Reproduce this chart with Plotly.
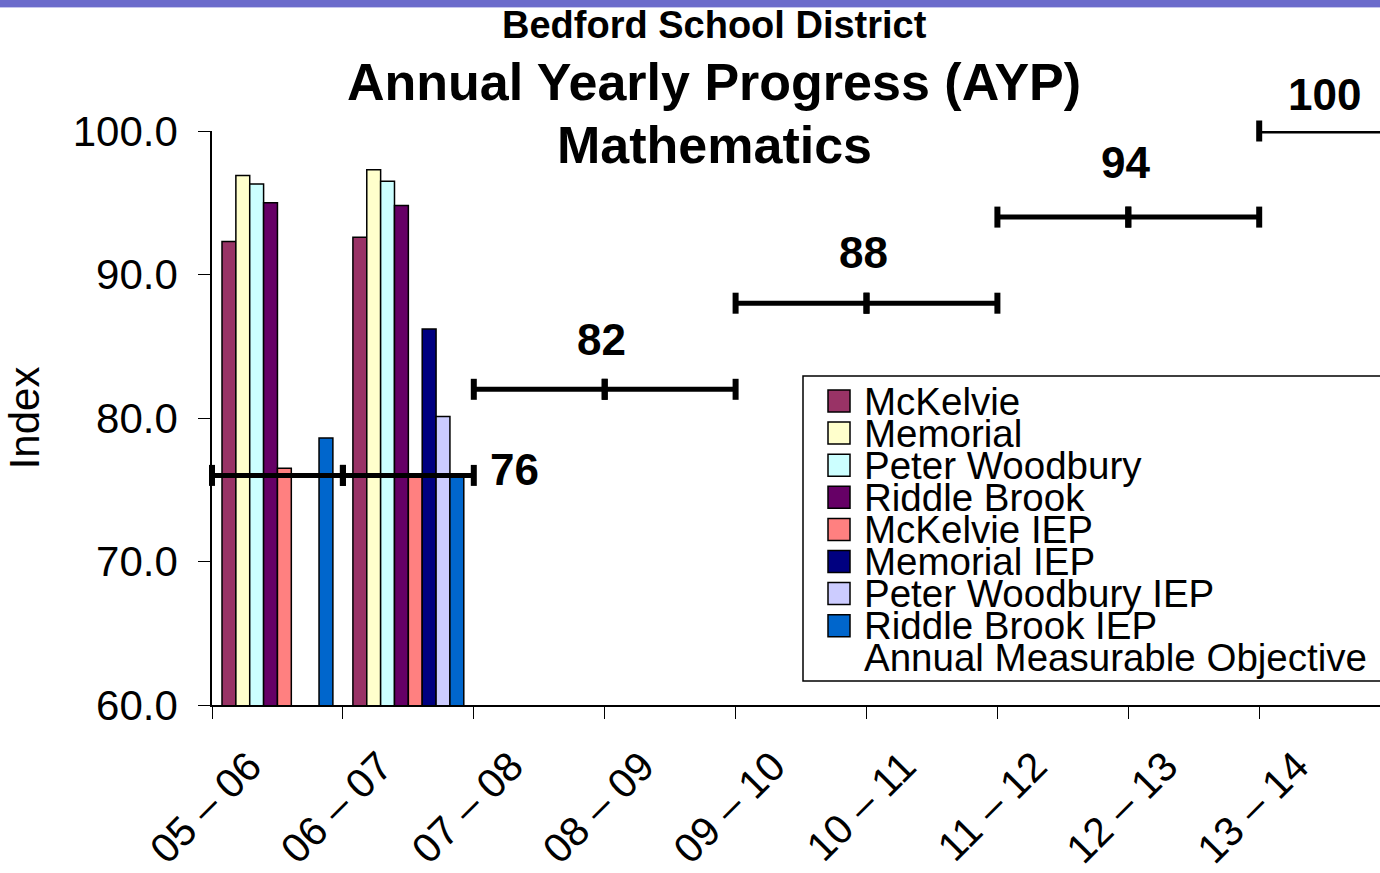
import plotly.graph_objects as go

years = ["05 – 06", "06 – 07", "07 – 08", "08 – 09", "09 – 10",
         "10 – 11", "11 – 12", "12 – 13", "13 – 14"]

mckelvie = [92.3, 92.6]
memorial = [96.9, 97.3]
peter_woodbury = [96.3, 96.5]
riddle_brook = [95.0, 94.8]
mckelvie_iep = [76.5, 76.0]
memorial_iep = [None, 86.2]
peter_woodbury_iep = [None, 80.1]
riddle_brook_iep = [78.6, 75.9]

amo = [76, 76, 82, 82, 88, 88, 94, 94, 100]
amo_name = "Annual Measurable Objective"

series = [
    ("McKelvie", mckelvie, "#993366"),
    ("Memorial", memorial, "#FFFFCC"),
    ("Peter Woodbury", peter_woodbury, "#CCFFFF"),
    ("Riddle Brook", riddle_brook, "#660066"),
    ("McKelvie IEP", mckelvie_iep, "#FF8080"),
    ("Memorial IEP", memorial_iep, "#000080"),
    ("Peter Woodbury IEP", peter_woodbury_iep, "#CCCCFF"),
    ("Riddle Brook IEP", riddle_brook_iep, "#0066CC"),
]

FONT = "Liberation Sans, Arial, sans-serif"
W, H = 1380, 873
L, R, T, B = 212, 0, 131, 168
pw = W - L - R
ph = H - T - B
cat_px = 130.9
xmax = -0.5 + pw / cat_px


def px_x(px):
    return (px - L) / pw


def px_y(py):
    return (H - B - py) / ph


fig = go.Figure()
for name, vals, col in series:
    fig.add_trace(go.Bar(
        x=years[:len(vals)], y=vals, name=name,
        marker=dict(color=col, line=dict(color="black", width=1.5)),
        xaxis="x", yaxis="y", showlegend=False,
    ))

# Annual Measurable Objective: one horizontal segment per school year
ax, ay = [], []
for i, v in enumerate(amo):
    ax += [i - 0.5, i + 0.5, None]
    ay += [v, v, None]
fig.add_trace(go.Scatter(
    x=ax, y=ay, mode="lines+markers", xaxis="x2", yaxis="y", name=amo_name,
    line=dict(color="black", width=5),
    marker=dict(symbol="line-ns", size=15, line=dict(color="black", width=6)),
    showlegend=False, cliponaxis=False,
))

# labels of the objective levels
lab_font = dict(family=FONT, size=44, color="black", weight="bold")
fig.add_annotation(x=1.5, y=amo[1], xref="x2", yref="y", text=str(amo[1]),
                   showarrow=False, xanchor="left", yanchor="middle",
                   xshift=14, yshift=6, font=lab_font)
for i, ys in ((2, 50), (4, 51), (6, 55)):
    fig.add_annotation(x=i + 0.5, y=amo[i], xref="x2", yref="y", text=str(amo[i]),
                       showarrow=False, xanchor="center", yanchor="middle",
                       xshift=-3, yshift=ys, font=lab_font)
fig.add_annotation(x=8, y=amo[8], xref="x2", yref="y", text=str(amo[8]),
                   showarrow=False, xanchor="center", yanchor="middle",
                   yshift=37, font=lab_font)

# titles
fig.add_annotation(x=px_x(714), y=px_y(25), xref="paper", yref="paper",
                   text="<b>Bedford School District</b>", showarrow=False,
                   yanchor="middle", font=dict(family=FONT, size=38, color="black"))
fig.add_annotation(x=px_x(714), y=px_y(82), xref="paper", yref="paper",
                   text="<b>Annual Yearly Progress (AYP)</b>", showarrow=False,
                   yanchor="middle", font=dict(family=FONT, size=52, color="black"))
fig.add_annotation(x=px_x(714), y=px_y(145), xref="paper", yref="paper",
                   text="<b>Mathematics</b>", showarrow=False,
                   yanchor="middle", font=dict(family=FONT, size=52, color="black"))

# top purple band
fig.add_shape(type="rect", xref="paper", yref="paper",
              x0=px_x(0), x1=px_x(W), y0=px_y(7), y1=px_y(0),
              fillcolor="#6B6BCB", line=dict(width=0), layer="above")
fig.add_shape(type="rect", xref="paper", yref="paper",
              x0=px_x(0), x1=px_x(W), y0=px_y(8), y1=px_y(7),
              fillcolor="#C4C4EC", line=dict(width=0), layer="above")

# legend box (Excel-style, tight rows)
fig.add_shape(type="rect", xref="paper", yref="paper",
              x0=px_x(803), x1=px_x(W + 10), y0=px_y(681), y1=px_y(376),
              fillcolor="white", line=dict(color="black", width=1.5), layer="above")
row0, row_h = 401, 32.1
leg_font = dict(family=FONT, size=38.5, color="black")
for k, (name, vals, col) in enumerate(series):
    cy = row0 + k * row_h
    fig.add_shape(type="rect", xref="paper", yref="paper",
                  x0=px_x(828), x1=px_x(850), y0=px_y(cy + 11), y1=px_y(cy - 11),
                  fillcolor=col, line=dict(color="black", width=1.5), layer="above")
    fig.add_annotation(x=px_x(862), y=px_y(cy), xref="paper", yref="paper",
                       text=name, showarrow=False, xanchor="left", yanchor="middle",
                       font=leg_font)
fig.add_annotation(x=px_x(862), y=px_y(row0 + 8 * row_h), xref="paper", yref="paper",
                   text=amo_name, showarrow=False, xanchor="left", yanchor="middle",
                   font=leg_font)

fig.update_layout(
    width=W, height=H,
    margin=dict(l=L, r=R, t=T, b=B, pad=0),
    paper_bgcolor="white", plot_bgcolor="white",
    barmode="group", bargap=0.153, bargroupgap=0,
    font=dict(family=FONT, color="black"),
    showlegend=False,
    xaxis=dict(type="category", categoryorder="array", categoryarray=years,
               range=[-0.5, xmax], tickson="boundaries", ticks="outside",
               ticklen=12, tickcolor="black", tickwidth=1,
               showline=True, linecolor="black", linewidth=1.5,
               tickangle=-45, tickfont=dict(size=41, family=FONT),
               ticklabelshift=-28, ticklabelstandoff=19, automargin=False,
               showgrid=False, zeroline=False),
    xaxis2=dict(overlaying="x", range=[-0.5, xmax], visible=False,
                showgrid=False, zeroline=False),
    yaxis=dict(range=[60, 100], dtick=10, tickformat=".1f", ticks="outside",
               ticklen=12, tickcolor="black", showline=True, linecolor="black",
               linewidth=1.5, showgrid=False, zeroline=False,
               ticklabelstandoff=12, automargin=False,
               tickfont=dict(size=42, family=FONT),
               title=dict(text="Index", font=dict(size=42, family=FONT), standoff=20)),
)

fig.write_html("out.html", config={"displayModeBar": False},
               post_script="document.body.style.margin='0';")
